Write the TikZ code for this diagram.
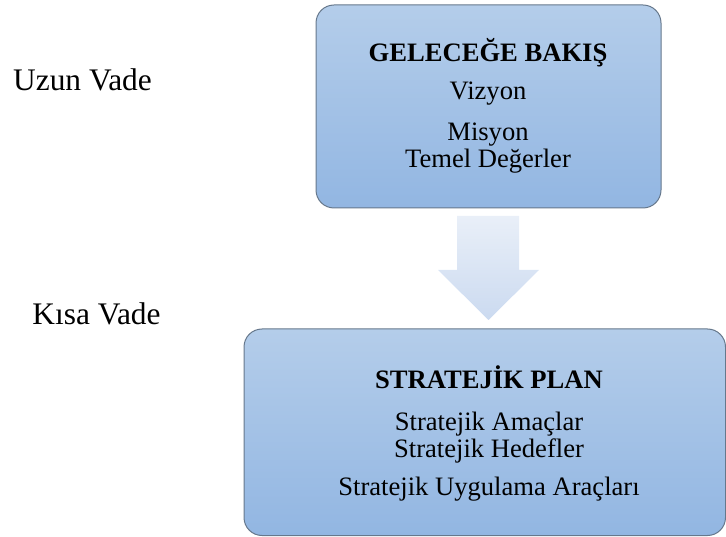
\documentclass[tikz,border=0pt]{standalone}
\usepackage{fontspec}
\setmainfont{Liberation Serif}
\definecolor{boxtop}{HTML}{B4CDEA}
\definecolor{boxbot}{HTML}{92B6E2}
\definecolor{boxline}{HTML}{66788C}
\definecolor{arrtop}{HTML}{E9EFF8}
\definecolor{arrbot}{HTML}{CBDAF0}
\tikzset{
  panel/.style={draw=boxline, line width=1pt, rounded corners=18pt, top color=boxtop, bottom color=boxbot},
  txt/.style={font=\fontsize{26.6}{30}\selectfont, inner sep=0pt, anchor=base},
  ttl/.style={font=\fontsize{26.6}{30}\selectfont\bfseries, inner sep=0pt, anchor=base},
  side/.style={font=\fontsize{31.4}{36}\selectfont, inner sep=0pt, anchor=base},
  blockarrow/.style={top color=arrtop, bottom color=arrbot, draw=none}
}
\begin{document}
\begin{tikzpicture}[x=1pt,y=-1pt]
\useasboundingbox (0,0) rectangle (726,537);
\begin{scope}
\clip (0,0) rectangle (726,537);
\shade[panel] (316,5) rectangle (661,208);
\shade[panel] (244,329) rectangle (725.5,535.5);
\end{scope}
\shade[blockarrow] (457,216) -- (519,216) -- (519,270) -- (539,270) -- (488.5,320) -- (438,270) -- (457,270) -- cycle;
\node[side] (uzun) at (82.5,91) {Uzun Vade};
\node[side] (kisa) at (96.5,324.5) {Kısa Vade};
\node[ttl] (t1) at (488,61.5) {GELECEĞE BAKIŞ};
\node[txt] (v1) at (488,99.5) {Vizyon};
\node[txt] (v2) at (488,141) {Misyon};
\node[txt] (v3) at (488,168) {Temel Değerler};
\node[ttl] (t2) at (489,388.5) {STRATEJİK PLAN};
\node[txt] (s1) at (489,430) {Stratejik Amaçlar};
\node[txt] (s2) at (489,457) {Stratejik Hedefler};
\node[txt] (s3) at (489,495) {Stratejik Uygulama Araçları};
\end{tikzpicture}
\end{document}
